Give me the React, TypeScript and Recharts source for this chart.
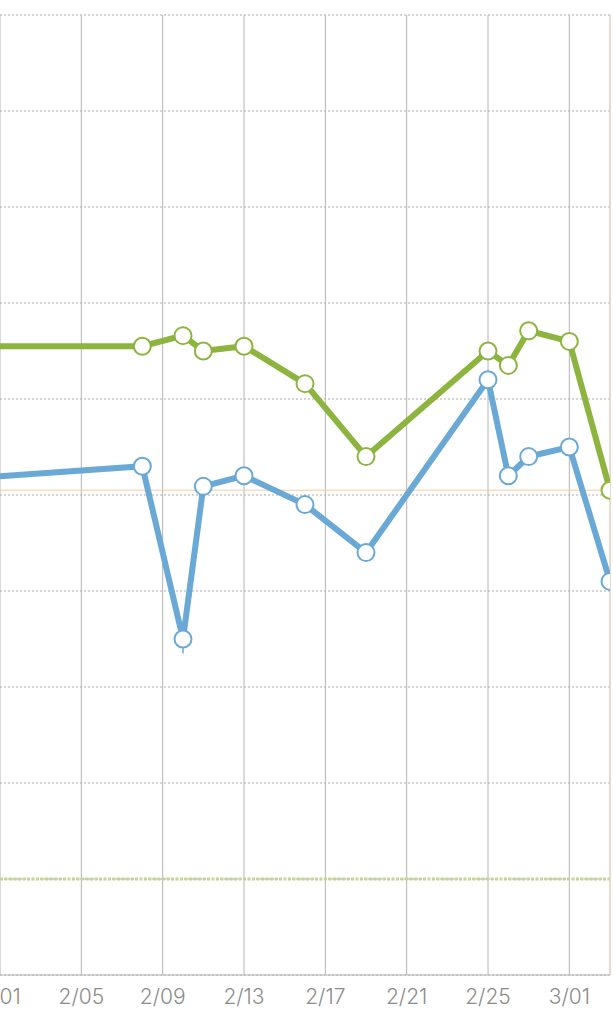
import { LineChart, Line, XAxis, YAxis, CartesianGrid, ReferenceLine, ErrorBar } from 'recharts'

// 日期（第一个点在可见区域左侧之外）
const dates = ['1/29', '2/08', '2/10', '2/11', '2/13', '2/16', '2/19', '2/25', '2/26', '2/27', '3/01', '3/03']
// 绿色系列
const greenValues = [6.55, 6.55, 6.66, 6.5, 6.55, 6.16, 5.4, 6.5, 6.35, 6.71, 6.6, 5.05]
// 蓝色系列
const blueValues = [5.15, 5.3, 3.5, 5.09, 5.2, 4.9, 4.4, 6.2, 5.2, 5.4, 5.5, 4.1]
// 蓝色系列的小尾巴 [下, 上]
const blueTail = [0, 0, 0.15, 0, 0, 0, 0, 0, 0, 0, 0, 0]

// X轴刻度（2/01 在左边被截掉一半，和原图一样）
const tickLabels = ['2/01', '2/05', '2/09', '2/13', '2/17', '2/21', '2/25', '3/01']
const yTicks = [0, 1, 2, 3, 4, 5, 6, 7, 8, 9, 10]

const targetLine = 5.05
const baseLine = 1

// 把 "M/DD" 转成从 2/01 开始的天数
const toDay = (d: string) => {
  const [m, day] = d.split('/').map(Number)
  if (m === 1) return day - 32
  if (m === 2) return day - 1
  return 28 + day - 1
}

const tickDays = tickLabels.map(toDay)
const lastDay = toDay('3/03')

const data = dates.map((d, i) => ({
  day: toDay(d),
  green: greenValues[i],
  blue: blueValues[i],
  tail: [blueTail[i], 0],
}))

const GREEN = '#8db43f'
const BLUE = '#6aa8d6'

export default function App() {
  return (
    <div style={{ position: 'absolute', left: 0, top: 0 }}>
      <LineChart width={613} height={1024} data={data} margin={{ top: 15, right: 3, left: 0, bottom: 0 }}>
        <CartesianGrid vertical={false} stroke="#ababab" strokeDasharray="2 2" />
        <CartesianGrid horizontal={false} stroke="#b4b4b4" />
        <XAxis
          dataKey="day"
          type="number"
          domain={[0, lastDay]}
          allowDataOverflow
          ticks={tickDays}
          interval={0}
          tickFormatter={(v: number) => tickLabels[tickDays.indexOf(v)]}
          tickLine={false}
          axisLine={{ stroke: '#b4b4b4' }}
          tickMargin={8}
          height={49}
          tick={{ fontSize: 21, fill: '#8c8c8c', fontFamily: 'Inter, "Noto Sans", sans-serif', fontWeight: 300 }}
        />
        <YAxis hide domain={[0, 10]} ticks={yTicks} width={0} />
        <ReferenceLine y={baseLine} stroke="#c4d58f" strokeWidth={3} strokeDasharray="3 1.5" />
        <ReferenceLine y={targetLine} stroke="#f4cba6" strokeWidth={1} />
        <ReferenceLine x={lastDay} stroke="#f6dcc6" strokeWidth={1} />
        <Line
          type="linear"
          dataKey="green"
          stroke={GREEN}
          strokeWidth={6}
          dot={{ r: 8.5, fill: '#fff', stroke: GREEN, strokeWidth: 2 }}
          isAnimationActive={false}
        />
        <Line
          type="linear"
          dataKey="blue"
          stroke={BLUE}
          strokeWidth={6}
          dot={{ r: 8.5, fill: '#fff', stroke: BLUE, strokeWidth: 2 }}
          isAnimationActive={false}
        >
          <ErrorBar dataKey="tail" direction="y" width={0} stroke={BLUE} strokeWidth={1.5} />
        </Line>
      </LineChart>
    </div>
  )
}
